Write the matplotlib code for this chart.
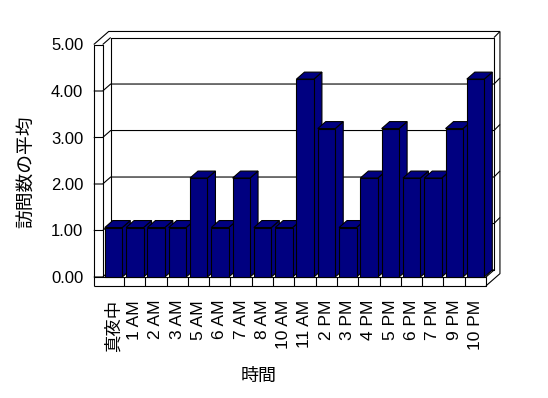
import matplotlib
matplotlib.use('Agg')
import matplotlib.pyplot as plt

# dados
horas = ['真夜中', '1 AM', '2 AM', '3 AM', '5 AM', '6 AM', '7 AM', '8 AM', '10 AM',
         '11 AM', '2 PM', '3 PM', '4 PM', '5 PM', '6 PM', '7 PM', '9 PM', '10 PM']
media_visitas = [1, 1, 1, 1, 2, 1, 2, 1, 1, 4, 3, 1, 2, 3, 2, 2, 3, 4]
ticks_y = [0, 1, 2, 3, 4, 5]

plt.rcParams['font.family'] = ['Liberation Sans', 'Noto Sans CJK JP', 'DejaVu Sans']

# aparencia "3D" estilo Excel
COR = '#000080'
DX, DY = 0.375, 0.15      # profundidade (parede do fundo)
WL = 0.42                 # espessura da parede esquerda
FT = 0.19                 # espessura do chao
BX, BY = 0.28, 0.13       # espessura da parede do fundo
PERSP = 1.064             # leve perspectiva das barras
LW = 0.8

n = len(horas)
ymax = ticks_y[-1]

W, H = 548, 398
fig = plt.figure(figsize=(W / 100, H / 100), dpi=100)
ax = fig.add_axes([102.7 / W, 1 - 277 / H, 383.3 / W, 232.5 / H])
ax.set_xlim(0, n)
ax.set_ylim(0, ymax)
for s in ax.spines.values():
    s.set_visible(False)


def linha(xs, ys, z=1):
    ax.plot(xs, ys, color='black', lw=LW, clip_on=False, zorder=z, solid_capstyle='butt')


# parede do fundo
ax.fill([DX, n + DX, n + DX, DX], [DY, DY, ymax + DY, ymax + DY],
        color='white', zorder=0, clip_on=False)
linha([DX, n + DX, n + DX, DX, DX], [DY, DY, ymax + DY, ymax + DY, DY])
t = (DY + BY) / DY
linha([-WL, -WL + t * DX, n + DX + BX], [ymax, ymax + DY + BY, ymax + DY + BY])
linha([n + DX, n + DX + BX], [ymax + DY, ymax + DY + BY])
tb = (DX + BX) / DX
linha([n + DX + BX, n + DX + BX, n], [ymax + DY + BY, -FT + tb * DY, -FT])

# linhas de grade e marcas
for v in ticks_y[:-1]:
    linha([-WL, 0, DX, n + DX], [v, v, v + DY, v + DY])
    if v > 0:
        linha([n + DX, n + DX + BX], [v + DY, v + DY + BY])

# parede esquerda
linha([-WL, -WL, 0, 0, -WL], [-FT, ymax, ymax, 0, 0])
linha([0, DX], [ymax, ymax + DY])

# chao
linha([0, n, n, -WL], [0, 0, -FT, -FT])
linha([n, n + DX], [0, DY])
for i in range(1, n):
    linha([i, i], [-FT, 0])

# barras
for i, v in enumerate(media_visitas):
    x0 = i + 0.1
    x1 = x0 + 0.82
    h = v * PERSP
    z = 10 + i
    kw = dict(facecolor=COR, edgecolor='black', lw=LW, clip_on=False, zorder=z)
    ax.fill([x1, x1 + DX, x1 + DX, x1], [0, DY, h + DY, h], **kw)
    ax.fill([x0, x1, x1 + DX, x0 + DX], [h, h, h + DY, h + DY], **kw)
    ax.fill([x0, x1, x1, x0], [0, 0, h, h], **kw)

ax.set_yticks(ticks_y)
ax.set_yticklabels([f'{v:.2f}' for v in ticks_y], fontsize=12)
ax.set_xticks([i + 0.5 for i in range(n)])
ax.set_xticklabels(horas, rotation=90, fontsize=12.5)
ax.tick_params(axis='y', length=0, pad=14)
ax.tick_params(axis='x', length=0, pad=16.5)

fig.text(259 / W, 1 - 376 / H, '時間', fontsize=13, ha='center', va='center')
fig.text(28 / W, 1 - 172 / H, '訪問数の平均', fontsize=13.5, rotation=90,
         ha='center', va='center')

fig.savefig('out.png', dpi=100, facecolor='white')
